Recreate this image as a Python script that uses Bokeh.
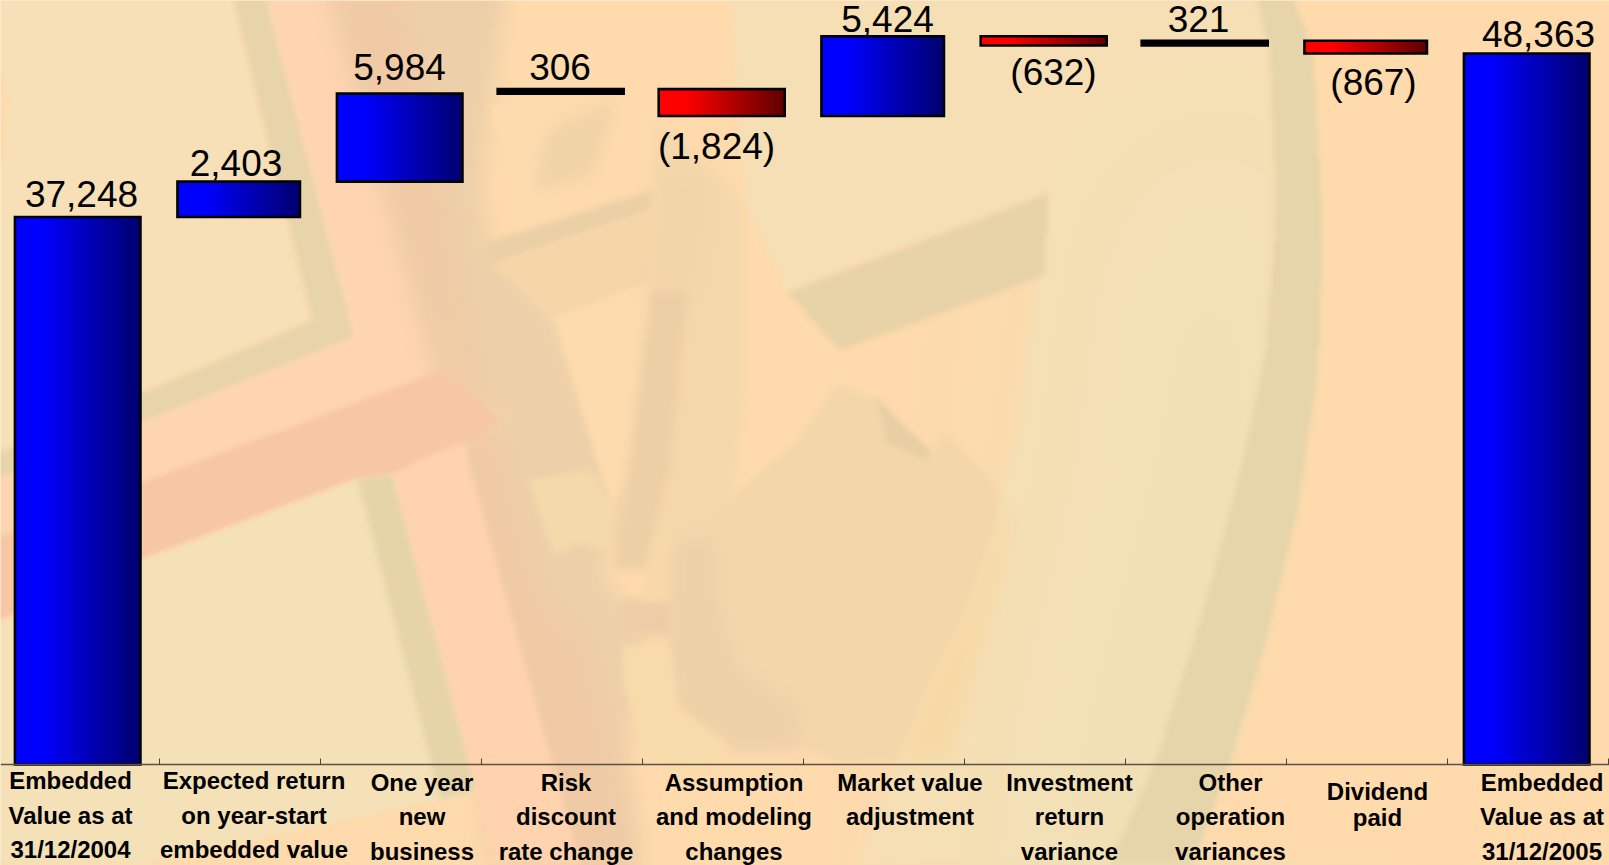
import numpy as np

from bokeh.core.properties import value
from bokeh.embed import file_html
from bokeh.models import ColumnDataSource, FixedTicker, Range1d
from bokeh.plotting import figure
from bokeh.resources import INLINE

# Embedded value walk, 2004 to 2005
categories = [
    ["Embedded", "Value as at", "31/12/2004"],
    ["Expected return", "on year-start", "embedded value"],
    ["One year", "new", "business"],
    ["Risk", "discount", "rate change"],
    ["Assumption", "and modeling", "changes"],
    ["Market value", "adjustment"],
    ["Investment", "return", "variance"],
    ["Other", "operation", "variances"],
    ["Dividend", "paid"],
    ["Embedded", "Value as at", "31/12/2005"],
]
amounts = [37248, 2403, 5984, 306, -1824, 5424, -632, 321, -867, 48363]
is_total = [True, False, False, False, False, False, False, False, False, True]

# Page layout, in screen pixels
W, H = 1609, 865
BASE_PX = 764.0
PX_PER_UNIT = 0.0147
SLOT_PX = 161.0
FIRST_CENTRE_PX = 77.2
THIN_STEP_PX = 6.0
bar_widths_px = [125.5, 122.5, 125.5, 126, 126, 122.5, 126, 126, 122.5, 125.5]
value_label_px = [
    (81, 206), (235.5, 175), (399, 79), (559.5, 79), (716, 158.5),
    (887, 31.5), (1053, 85), (1198, 31), (1373, 95), (1538, 46.5),
]
VALUE_BASELINE_NUDGE = 13.0
LABEL_BASELINE_NUDGE = 11.0
line_baselines_px = [791, 825.5, 860]
line_baselines_alt_px = [793, 827, 861.6]
category_label_px = [
    (70, line_baselines_px), (253.5, line_baselines_px), (421.5, line_baselines_alt_px),
    (565.5, line_baselines_alt_px), (733.5, line_baselines_alt_px), (909.5, line_baselines_alt_px),
    (1069, line_baselines_alt_px), (1230, line_baselines_alt_px), (1377, [802, 828]),
    (1541.5, line_baselines_alt_px),
]

# Decorative artwork behind the chart, painted back to front: colour, edge softness, outline
PEACH = "#FEDAAC"
artwork = [
    # cream disc, with a tint that drifts greener towards its right side
    ("#F7DFB5", 2, [(730, 0), (1258, 0), (1270, 50), (1277, 210), (1267, 348), (1243, 463), (1207, 600), (1157, 761),
                    (1110, 865), (860, 865), (901, 763), (953, 670), (999, 503), (1022, 433), (1039, 283), (1045, 275),
                    (1049, 193), (788, 292), (745, 205)]),
    ("#F0E0B6", 90, [(1120, 120), (1330, 120), (1330, 1100), (960, 1100), (1020, 670), (1075, 503), (1085, 350)]),
    # peach edge that the tint must not wash over
    ("#F5DFB5", 6, [(1039, 283), (1049, 193), (1060, 280), (1030, 433), (1005, 503), (960, 670), (908, 763),
                    (868, 865), (860, 865), (901, 763), (953, 670), (999, 503), (1022, 433)]),
    # ring around the disc
    ("#E6D5AA", 2, [(1258, 0), (1296, 0), (1315, 50), (1325, 233), (1320, 371), (1300, 509), (1267, 646), (1233, 761),
                    (1195, 865), (1110, 865), (1157, 761), (1207, 600), (1243, 463), (1267, 348), (1277, 210),
                    (1270, 50)]),
    # peach beyond the ring, clear of the tint
    (PEACH, 2, [(1296, 0), (1609, 0), (1609, 865), (1195, 865), (1233, 761), (1267, 646), (1300, 509), (1320, 371),
                (1325, 233), (1315, 50)]),
    # upper-left panel
    ("#F7E0B7", 2, [(6, 0), (233, 0), (312, 320), (0, 453), (0, 172), (6, 140), (8, 100), (0, 60), (0, 0)]),
    ("#E8D4AA", 2, [(233, 0), (267, 0), (355, 337), (0, 480), (0, 453), (312, 320)]),
    # salmon frame
    ("#FED5B0", 2, [(267, 0), (335, 0), (440, 370), (0, 537), (0, 480), (355, 337)]),
    # dark mass through the middle
    ("#EDD0A9", 8, [(335, 0), (505, 0), (490, 100), (480, 190), (490, 245), (554, 317), (625, 513), (600, 570),
                    (645, 640), (625, 764), (640, 865), (580, 865), (535, 765), (469, 465), (500, 420), (440, 370)]),
    ("#F0C9A5", 14, [(335, 0), (400, 0), (440, 180), (480, 400), (500, 440), (540, 600), (585, 640), (612, 764),
                     (630, 865), (494, 865), (440, 370)]),
    ("#F7C6A2", 2, [(440, 370), (500, 420), (464, 442), (393, 475), (357, 480), (143, 560), (0, 622), (0, 537)]),
    # lower-left panel
    ("#F5E1B7", 2, [(0, 622), (143, 560), (357, 480), (478, 792), (143, 865), (0, 865)]),
    ("#E6D4A9", 2, [(357, 480), (393, 475), (478, 790), (440, 800)]),
    ("#FED3AE", 2, [(393, 475), (464, 442), (469, 465), (553, 765), (580, 865), (494, 865), (469, 765)]),
    # folds on the central mass
    ("#EBCFA5", 3, [(483, 243), (652, 190), (652, 210), (490, 265)]),
    ("#F5D6A9", 3, [(490, 265), (652, 210), (652, 282), (554, 317)]),
    ("#FDDBAE", 2, [(554, 317), (652, 282), (628, 467), (612, 513)]),
    ("#F3D9AB", 3, [(527, 480), (590, 470), (620, 515), (610, 553), (580, 545), (552, 556)]),
    ("#FDDBAF", 3, [(490, 105), (530, 105), (575, 130), (550, 207), (516, 227), (512, 200)]),
    ("#F0D3A7", 6, [(532, 190), (548, 130), (616, 100), (590, 175)]),
    # curved ribbon behind the top of the page
    ("#F4D8AB", 4, [(655, 120), (745, 205), (745, 370), (736, 467), (720, 537), (670, 600), (645, 570), (670, 467),
                    (686, 282), (652, 282)]),
    ("#F1D4A8", 12, [(660, 170), (712, 170), (690, 300), (648, 300)]),
    ("#EDCFA5", 5, [(650, 290), (688, 290), (670, 467), (645, 570), (613, 570), (628, 467)]),
    ("#EDCDA7", 4, [(618, 600), (680, 600), (680, 637), (618, 637)]),
    # wedge under the cream panel
    ("#E8D2A7", 2, [(788, 292), (1049, 193), (1045, 275), (840, 350)]),
    # central diamond
    ("#F7D9A6", 8, [(946, 433), (1001, 492), (994, 533), (960, 623), (925, 693), (897, 763), (950, 763), (985, 640),
                    (1015, 520)]),
    ("#F3D7AA", 3, [(838, 383), (876, 398), (931, 452), (946, 433), (1001, 492), (994, 533), (960, 623), (925, 693),
                    (897, 763), (841, 763), (803, 748), (732, 750), (676, 707), (669, 647), (673, 557), (682, 538),
                    (713, 537), (715, 513), (732, 497), (796, 443)]),
    ("#EED0A8", 8, [(682, 538), (713, 537), (718, 603), (739, 670), (796, 707), (803, 748), (732, 750), (676, 707),
                    (669, 647), (673, 557)]),
    ("#E8CEA3", 3, [(876, 398), (931, 452), (927, 460), (887, 443), (882, 417)]),
    ("#F8DBAB", 3, [(622, 647), (669, 647), (676, 707), (729, 747), (700, 770), (648, 763), (624, 687)]),
    ("#F8D8A8", 3, [(641, 600), (668, 600), (668, 537), (655, 537)]),
]


def polygon_mask(points, rows, cols, shrink):
    """Even-odd fill of an outline on a grid shrunk by the given factor."""
    toggles = np.zeros((rows, cols + 1), dtype=np.int32)
    scaled = [(x / shrink, y / shrink) for x, y in points]
    for (x0, y0), (x1, y1) in zip(scaled, scaled[1:] + scaled[:1]):
        if y0 == y1:
            continue
        first = max(0, int(np.ceil(min(y0, y1) - 0.5)))
        last = min(rows, int(np.ceil(max(y0, y1) - 0.5)))
        if first >= last:
            continue
        row = np.arange(first, last)
        crossing = x0 + (row + 0.5 - y0) * (x1 - x0) / (y1 - y0)
        col = np.clip(np.ceil(crossing - 0.5).astype(int), 0, cols)
        np.add.at(toggles, (row, col), 1)
    return (np.cumsum(toggles, axis=1)[:, :cols] % 2).astype(np.float32)


def soften(mask, radius):
    """Three box passes along each axis, close to a Gaussian blur."""
    if radius < 1:
        return mask
    for axis in (0, 1):
        for _ in range(3):
            pad = [(0, 0), (0, 0)]
            pad[axis] = (radius + 1, radius)
            padded = np.pad(mask, pad, mode="edge")
            total = np.cumsum(padded, axis=axis)
            upper = np.take(total, range(2 * radius + 1, total.shape[axis]), axis=axis)
            lower = np.take(total, range(0, total.shape[axis] - 2 * radius - 1), axis=axis)
            mask = (upper - lower) / (2 * radius + 1)
    return mask


def paint_artwork(shrink=2):
    rows, cols = H // shrink + 1, W // shrink + 1
    rgb = lambda c: np.array([int(c[i:i + 2], 16) for i in (1, 3, 5)], dtype=np.float32)
    canvas = np.ones((rows, cols, 3), dtype=np.float32) * rgb(PEACH)
    for colour, softness, outline in artwork:
        mask = soften(polygon_mask(outline, rows, cols, shrink), max(1, softness // shrink))
        canvas = canvas * (1 - mask[..., None]) + rgb(colour) * mask[..., None]
    image = np.zeros((rows, cols), dtype=np.uint32)
    view = image.view(np.uint8).reshape((rows, cols, 4))
    view[..., :3] = np.round(canvas).astype(np.uint8)
    view[..., 3] = 255
    return image[::-1]  # image rows run bottom to top


# Running totals give each step its floor and ceiling
bottoms, tops = [], []
running = 0
for amount, total in zip(amounts, is_total):
    if total:
        low, high = 0, amount
        running = amount
    else:
        low, high = sorted((running, running + amount))
        running += amount
    bottoms.append(low)
    tops.append(high)

x_start = -FIRST_CENTRE_PX / SLOT_PX
y_start = (BASE_PX - H) / PX_PER_UNIT
p = figure(
    width=W, height=H, output_backend="svg", toolbar_location=None,
    x_range=Range1d(x_start, (W - FIRST_CENTRE_PX) / SLOT_PX),
    y_range=Range1d(y_start, BASE_PX / PX_PER_UNIT),
    min_border=0, background_fill_color=PEACH, border_fill_color=PEACH,
    x_axis_location="below", y_axis_location=None,
)
p.extra_x_ranges["px"] = Range1d(0, W)
p.extra_y_ranges["px"] = Range1d(H, 0)
p.grid.visible = False
p.outline_line_color = None

p.image_rgba(image=[paint_artwork()], x=x_start, y=y_start, dw=W / SLOT_PX, dh=H / PX_PER_UNIT)


def gradient_colour(rate, positive, thin):
    """Bright at the left quarter of a bar, falling to a deep shade at its right edge."""
    if thin:
        return "#000000"  # the outline swallows such a small step
    fade = max(0.0, (rate - 0.2) / 0.8)
    level = round(255 - fade * (255 - (112 if positive else 96)))
    return f"#0000{level:02x}" if positive else f"#{level:02x}0000"


# Every gradient strip runs on to the bar's right edge, so no seams show between strips
STRIPS = 48
strip_left, strip_right, strip_top, strip_bottom, strip_colour = [], [], [], [], []
outline_left, outline_right = [], []
for i, (amount, low, high) in enumerate(zip(amounts, bottoms, tops)):
    half = bar_widths_px[i] / SLOT_PX / 2
    thin = (high - low) * PX_PER_UNIT < THIN_STEP_PX
    outline_left.append(i - half)
    outline_right.append(i + half)
    for s in range(STRIPS):
        strip_left.append(i - half + 2 * half * s / STRIPS)
        strip_right.append(i + half)
        strip_top.append(high)
        strip_bottom.append(low)
        strip_colour.append(gradient_colour(s / (STRIPS - 1), amount >= 0, thin))

p.quad(left=strip_left, right=strip_right, top=strip_top, bottom=strip_bottom,
       fill_color=strip_colour, line_color=None)
p.quad(left=outline_left, right=outline_right, top=tops, bottom=bottoms,
       fill_color=None, line_color="black", line_width=2.6, line_join="miter")

# Category axis along the floor of the chart, with ticks between the slots
axis = p.xaxis[0]
tick_positions = [i + 0.51 for i in range(len(amounts))]
axis.ticker = FixedTicker(ticks=tick_positions)
axis.fixed_location = 0
axis.major_label_overrides = {t: "" for t in tick_positions}
axis.major_label_text_font_size = "1px"
axis.minor_tick_line_color = None
axis.major_tick_in = 6
axis.major_tick_out = 0
axis.major_tick_line_color = "#4a4438"
axis.major_tick_line_width = 1
axis.axis_line_color = "#5a5244"
axis.axis_line_width = 1.5


def value_text(amount):
    return f"({-amount:,})" if amount < 0 else f"{amount:,}"


value_source = ColumnDataSource(dict(
    x=[pos[0] for pos in value_label_px],
    y=[pos[1] - VALUE_BASELINE_NUDGE for pos in value_label_px],
    text=[value_text(a) for a in amounts],
))
p.text(x="x", y="y", text="text", source=value_source, x_range_name="px", y_range_name="px",
       text_font=value("Liberation Sans"), text_font_size="37px", text_color="black",
       text_align="center", text_baseline="alphabetic")

label_x, label_y, label_text = [], [], []
for lines, (cx, baselines) in zip(categories, category_label_px):
    for line, baseline in zip(lines, baselines):
        label_x.append(cx)
        label_y.append(baseline - LABEL_BASELINE_NUDGE)
        label_text.append(line)
p.text(x=label_x, y=label_y, text=label_text, x_range_name="px", y_range_name="px",
       text_font=value("Liberation Sans"), text_font_style="bold", text_font_size="24px",
       text_color="black", text_align="center", text_baseline="alphabetic")

with open("out.html", "w") as fh:
    fh.write(file_html(p, INLINE))
